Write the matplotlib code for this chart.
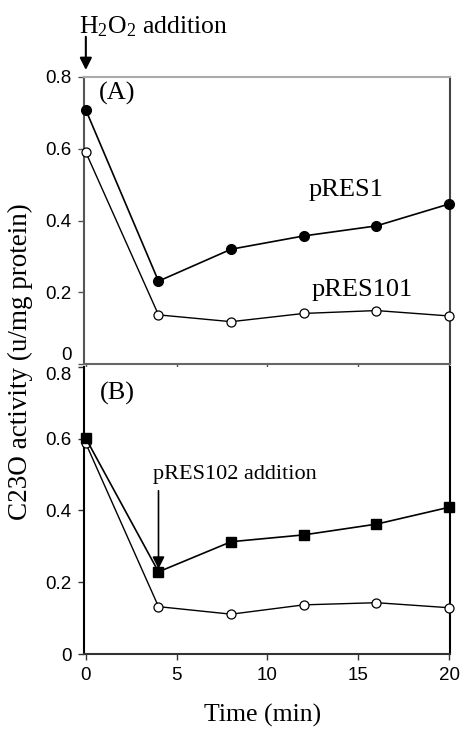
import matplotlib
matplotlib.use("Agg")
import matplotlib.pyplot as plt

plt.rcParams['font.family'] = ['Liberation Serif', 'DejaVu Serif']
plt.rcParams['mathtext.default'] = 'regular'

# Data
time = [0, 4, 8, 12, 16, 20]
a_pres1 = [0.708, 0.231, 0.320, 0.357, 0.385, 0.446]
a_pres101 = [0.590, 0.137, 0.118, 0.141, 0.149, 0.134]
b_pres102 = [0.601, 0.229, 0.313, 0.332, 0.362, 0.409]
b_pres101 = [0.587, 0.132, 0.111, 0.137, 0.143, 0.129]
yticks = [0, 0.2, 0.4, 0.6, 0.8]
ytick_labels = ['0', '0.2', '0.4', '0.6', '0.8']
xticks = [0, 5, 10, 15, 20]
xtick_labels = ['0', '5', '10', '15', '20']

fig = plt.figure(figsize=(4.66, 7.36), dpi=100)
axA = fig.add_axes([0.1803, 0.5054, 0.7854, 0.39])
axB = fig.add_axes([0.1803, 0.1114, 0.7854, 0.39])

tickfont = dict(family='Liberation Sans', size=13.5)

for ax in (axA, axB):
    ax.set_xlim(-0.1, 20.05)
    ax.set_ylim(0, 0.8)
    ax.set_yticks(yticks)
    ax.set_yticklabels(ytick_labels, **tickfont)
    ax.set_xticks(xticks)
    ax.tick_params(axis='y', direction='out', length=4, width=1, pad=5)
    ax.tick_params(axis='x', direction='out', length=4, width=1, pad=5)

axA.set_xticklabels([])
axB.set_xticklabels(xtick_labels, **tickfont)

# keep the adjoining "0" and "0.8" labels apart
axA.get_yticklabels()[0].set_va('bottom')
axB.get_yticklabels()[-1].set_va('top')

# spine styling
axA.spines['left'].set_color('#555555')
axA.spines['top'].set_color('#aaaaaa')
axA.spines['right'].set_color('#444444')
axA.spines['bottom'].set_color('#666666')
for s in axA.spines.values():
    s.set_linewidth(1.5)
axA.tick_params(colors='#555555', labelcolor='black')

axB.spines['top'].set_visible(False)
axB.spines['left'].set_color('black')
axB.spines['right'].set_color('black')
axB.spines['bottom'].set_color('#333333')
for s in axB.spines.values():
    s.set_linewidth(1.5)
axB.tick_params(colors='#333333', labelcolor='black')

# Panel A lines
axA.plot(time, a_pres1, color='black', lw=1.2, marker='o', ms=7,
         mfc='black', mec='black', clip_on=False, zorder=3)
axA.plot(time, a_pres101, color='black', lw=1.0, marker='o', ms=6.5,
         mfc='white', mec='black', mew=0.9, clip_on=False, zorder=3)

# Panel B lines
axB.plot(time, b_pres101, color='black', lw=1.0, marker='o', ms=6.5,
         mfc='white', mec='black', mew=0.9, clip_on=False, zorder=3)
axB.plot(time, b_pres102, color='black', lw=1.2, marker='s', ms=7,
         mfc='black', mec='black', clip_on=False, zorder=4)

# Texts
axA.text(1.75, 0.755, '(A)', fontsize=19, ha='center', va='center')
axB.text(1.75, 0.727, '(B)', fontsize=19, ha='center', va='center')
axA.text(14.3, 0.485, 'pRES1', fontsize=19, ha='center', va='center')
axA.text(15.2, 0.206, 'pRES101', fontsize=19, ha='center', va='center')

# H2O2 addition arrow
axA.annotate('', xy=(0, 0.8195), xytext=(0, 0.912),
             arrowprops=dict(arrowstyle='-|>', color='black', lw=1.5,
                             mutation_scale=18, shrinkA=0, shrinkB=0),
             annotation_clip=False)
axA.text(-0.35, 0.94, 'H$_2$O$_2$ addition', fontsize=18.5, ha='left',
         va='center', clip_on=False)

# pRES102 addition arrow
axB.annotate('', xy=(4, 0.237), xytext=(4, 0.455),
             arrowprops=dict(arrowstyle='-|>', color='black', lw=1.2,
                             mutation_scale=18, shrinkA=0, shrinkB=0))
axB.text(3.7, 0.5, 'pRES102 addition', fontsize=16, ha='left', va='center')

fig.text(0.043, 0.508, 'C23O activity (u/mg protein)', fontsize=19.5,
         rotation=90, ha='center', va='center')
fig.text(0.563, 0.028, 'Time (min)', fontsize=18.5, ha='center', va='center')

fig.savefig('out.png', dpi=100)
